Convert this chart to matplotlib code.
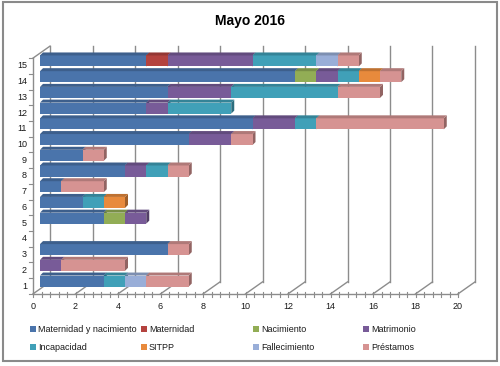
import numpy as np
import matplotlib
matplotlib.use('Agg')
import matplotlib.pyplot as plt
from matplotlib.patches import Polygon, Rectangle
from matplotlib.colors import to_rgb

plt.rcParams['font.family'] = ['Liberation Sans', 'DejaVu Sans']

# data (categories 1..15)
categories = list(range(1, 16))
series_names = ['Maternidad y nacimiento', 'Maternidad', 'Nacimiento', 'Matrimonio',
                'Incapacidad', 'SITPP', 'Fallecimiento', 'Préstamos']
mat_nac = [3, 0, 6, 0, 3, 2, 1, 4, 2, 7, 10, 5, 6, 12, 5]
maternidad = [0, 0, 0, 0, 0, 0, 0, 0, 0, 0, 0, 0, 0, 0, 1]
nacimiento = [0, 0, 0, 0, 1, 0, 0, 0, 0, 0, 0, 0, 0, 1, 0]
matrimonio = [0, 1, 0, 0, 1, 0, 0, 1, 0, 2, 2, 1, 3, 1, 4]
incapacidad = [1, 0, 0, 0, 0, 1, 0, 1, 0, 0, 1, 3, 5, 1, 3]
sitpp = [0, 0, 0, 0, 0, 1, 0, 0, 0, 0, 0, 0, 0, 1, 0]
fallecimiento = [1, 0, 0, 0, 0, 0, 0, 0, 0, 0, 0, 0, 0, 0, 1]
prestamos = [2, 3, 1, 0, 0, 0, 2, 1, 1, 1, 6, 0, 2, 1, 1]
xticks = list(range(0, 21, 2))

series = [mat_nac, maternidad, nacimiento, matrimonio, incapacidad, sitpp, fallecimiento, prestamos]
colors = ['#4a74ab', '#b4433f', '#92ad55', '#785b98', '#40a0b8', '#e88a3c', '#99aed8', '#d69392']

W, H = 500, 366
fig = plt.figure(figsize=(W / 100, H / 100), dpi=100)

# axes = front face of the bars
ax_l, ax_r = 40, 465
ax_top, ax_bot = 53.1, 288.9
ax = fig.add_axes([ax_l / W, (H - ax_bot) / H, (ax_r - ax_l) / W, (ax_bot - ax_top) / H])
ax.set_xlim(0, 20)
ax.set_ylim(0.5, 15.5)
ax.axis('off')

sx = (ax_r - ax_l) / 20.0
sy = (ax_bot - ax_top) / 15.0


def off(px, py):
    return px / sx, py / sy


fx, fy = off(-7, -5)   # front plane
bx, by = off(10, 7)    # back plane
grid_c = '#8c8c8c'

# back wall gridlines
for v in xticks:
    ax.plot([v + bx, v + bx], [0.5 + by, 15.5 + by], color=grid_c, lw=1.0, clip_on=False, zorder=1)
    # floor diagonals
    ax.plot([v + fx, v + bx], [0.5 + fy, 0.5 + by], color=grid_c, lw=1.0, clip_on=False, zorder=1)

# left wall
ax.plot([fx, fx], [0.5 + fy, 15.5 + fy], color=grid_c, lw=1.0, clip_on=False, zorder=1)
ax.plot([fx, bx], [15.5 + fy, 15.5 + by], color=grid_c, lw=1.0, clip_on=False, zorder=1)
# front floor line
ax.plot([fx, 20 + fx], [0.5 + fy, 0.5 + fy], color=grid_c, lw=1.0, clip_on=False, zorder=1)

# floor ticks
tdn = off(0, -3)[1]
tup = off(0, 2)[1]
for v in np.arange(0, 20.01, 0.4):
    ax.plot([v + fx, v + fx], [0.5 + fy + tdn, 0.5 + fy + tup], color=grid_c, lw=0.8,
            clip_on=False, zorder=1)
# left ticks
tl = off(-4, 0)[0]
for b in np.arange(0.5, 15.6, 1.0):
    ax.plot([fx + tl, fx], [b + fy, b + fy], color=grid_c, lw=0.8, clip_on=False, zorder=1)

# tick labels
lx = off(-13, 0)[1]
for v in xticks:
    ax.text(v + fx, 0.5 + fy + off(0, -13)[1], str(v), ha='center', va='center', fontsize=6.5,
            color='#1a1a1a', clip_on=False)
for c in categories:
    ax.text(fx + off(-6, 0)[0], c + fy, str(c), ha='right', va='center', fontsize=6.5,
            color='#1a1a1a', clip_on=False)

# bars with a pseudo 3d top and end face
h = 0.7
dx, dy = off(3, 3)
cats = np.array(categories)
left = np.zeros(len(categories))
for vals, col in zip(series, colors):
    vals = np.array(vals, dtype=float)
    ax.barh(cats, vals, left=left, height=h, color=col, linewidth=0, zorder=3)
    rgb = np.array(to_rgb(col))
    for c, l, v in zip(cats, left, vals):
        if v <= 0:
            continue
        r = l + v
        t = c + h / 2
        ax.add_patch(Polygon([(l, t), (r, t), (r + dx, t + dy), (l + dx, t + dy)],
                             closed=True, facecolor=rgb * 0.82, edgecolor='none', zorder=3,
                             clip_on=False))
        ax.add_patch(Polygon([(r, t - h), (r, t), (r + dx, t + dy), (r + dx, t - h + dy)],
                             closed=True, facecolor=rgb * 0.68, edgecolor='none', zorder=2.9,
                             clip_on=False))
    left = left + vals

# title
fig.text(250 / W, 1 - 21 / H, 'Mayo 2016', ha='center', va='center', fontsize=10,
         fontweight='bold', color='black')

# legend (4 columns, 2 rows)
col_x = [33, 144, 256, 366]
row_y = [329, 347]
for i, (name, col) in enumerate(zip(series_names, colors)):
    x0 = col_x[i % 4]
    y0 = row_y[i // 4]
    fig.add_artist(Rectangle(((x0 - 3) / W, 1 - (y0 + 3) / H), 6 / W, 6 / H,
                             transform=fig.transFigure, facecolor=col, edgecolor='none'))
    fig.text((x0 + 5) / W, 1 - y0 / H, name, ha='left', va='center', fontsize=6.5,
             color='#1a1a1a')

# chart border
fig.add_artist(Rectangle((3 / W, 1 - 361 / H), 494 / W, 359 / H, transform=fig.transFigure,
                         facecolor='none', edgecolor='#8a8a8a', lw=1.5))

fig.savefig('out.png', dpi=100)
